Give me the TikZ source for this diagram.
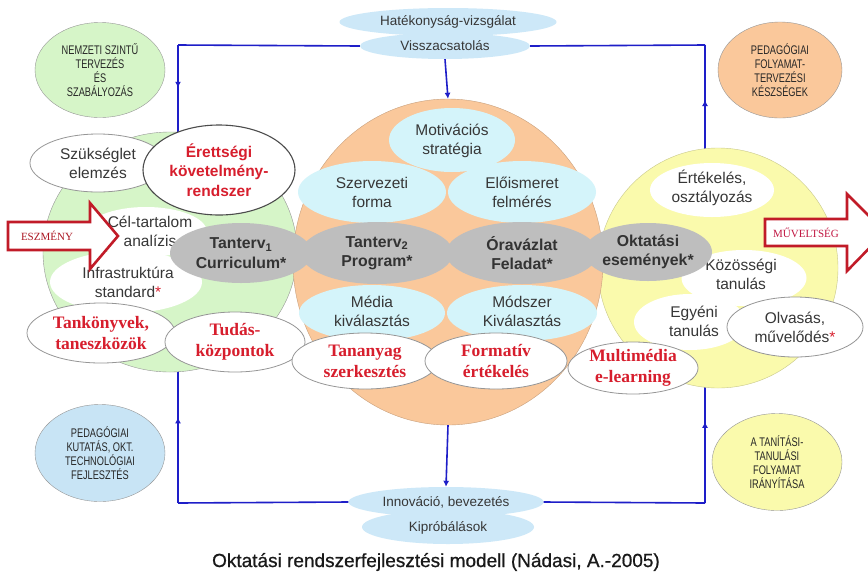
\documentclass[tikz,border=0pt]{standalone}
\usepackage{fontspec}
\setmainfont{Liberation Sans}
\newfontfamily\serifbold{Liberation Serif}
\newfontfamily\narrowsans[FakeStretch=0.74]{Liberation Sans}
\newfontfamily\captionfont[FakeBold=0.7]{Liberation Sans}
\usetikzlibrary{shapes.geometric,arrows.meta,decorations.markings}

\definecolor{greenfill}{RGB}{214,245,200}
\definecolor{orangefill}{RGB}{250,200,155}
\definecolor{yellowfill}{RGB}{250,250,172}
\definecolor{cyanfill}{RGB}{212,244,250}
\definecolor{paleblue}{RGB}{205,232,248}
\definecolor{cornerblue}{RGB}{200,228,245}
\definecolor{chaingray}{RGB}{190,190,190}
\definecolor{loopblue}{RGB}{30,30,200}
\definecolor{redtxt}{RGB}{215,30,45}
\definecolor{darktxt}{RGB}{55,55,55}
\definecolor{edgegray}{RGB}{150,150,150}

\tikzset{
  oval/.style={ellipse, inner sep=0pt, draw=none},
  outlined/.style={oval, draw=edgegray, line width=0.8pt, fill=white},
  txt/.style={align=center, text=darktxt, font=\fontsize{15.5}{19}\selectfont},
  boldtxt/.style={align=center, text=black!80, font=\bfseries\fontsize{15.8}{19.5}\selectfont},
  redsans/.style={align=center, text=redtxt, font=\bfseries\fontsize{15.5}{19.5}\selectfont},
  redserif/.style={align=center, text=redtxt, font=\serifbold\bfseries\fontsize{17.5}{21}\selectfont},
  cornertxt/.style={align=center, text=black!85, font=\narrowsans\fontsize{12.5}{14}\selectfont},
  smalltxt/.style={align=center, text=darktxt, font=\fontsize{13.5}{16}\selectfont},
  loopline/.style={draw=loopblue, line width=1.6pt},
  midarrow/.style={postaction={decorate, decoration={markings,
      mark=at position #1 with {\arrow[loopblue]{Latex[length=6pt,width=6pt]}}}}},
  downarrow/.style={loopline, -{Latex[length=6pt,width=6pt]}},
  bigarrow/.style={draw=redtxt!90!black, line width=2.6pt, fill=white, line join=miter},
}

\begin{document}
\begin{tikzpicture}[x=1pt, y=-1pt]
\useasboundingbox (0,0) rectangle (868,574);
\fill[white] (0,0) rectangle (868,574);

% corner ellipses
\node[oval, draw=edgegray, fill=greenfill, minimum width=130, minimum height=95] (nemzeti) at (100,70) {};
\node[cornertxt] at (nemzeti) {NEMZETI SZINTŰ\\TERVEZÉS\\ÉS\\SZABÁLYOZÁS};
\node[oval, draw=edgegray, fill=orangefill, minimum width=124, minimum height=96] (pedfoly) at (780,70) {};
\node[cornertxt] at (pedfoly) {PEDAGÓGIAI\\FOLYAMAT-\\TERVEZÉSI\\KÉSZSÉGEK};
\node[oval, draw=edgegray, fill=cornerblue, minimum width=130, minimum height=97] (pedkut) at (100,453) {};
\node[cornertxt] at (pedkut) {PEDAGÓGIAI\\KUTATÁS, OKT.\\TECHNOLÓGIAI\\FEJLESZTÉS};
\node[oval, draw=edgegray, fill=yellowfill, minimum width=130, minimum height=97] (tanit) at (777,462) {};
\node[cornertxt] at (tanit) {A TANÍTÁSI-\\TANULÁSI\\FOLYAMAT\\IRÁNYÍTÁSA};

% feedback / innovation ellipses
\node[oval, fill=paleblue, minimum width=217, minimum height=28] (hatek) at (448,22) {};
\node[oval, fill=paleblue, minimum width=170, minimum height=26] (vissza) at (445,46) {};
\node[smalltxt] at (448,22) {Hatékonyság-vizsgálat};
\node[smalltxt] at (445,46) {Visszacsatolás};
\node[oval, fill=paleblue, minimum width=172, minimum height=34] (kipro) at (448,527) {};
\node[oval, fill=paleblue, minimum width=195, minimum height=30] (innov) at (446,502) {};
\node[smalltxt] at (446,502) {Innováció, bevezetés};
\node[smalltxt] at (448,528) {Kipróbálások};

% loop corners
\coordinate (tl) at (178,45);
\coordinate (tr) at (705,45);
\coordinate (bl) at (178,503);
\coordinate (br) at (705,503);
\coordinate (greentop) at (178,140);
\coordinate (greenbot) at (178,365);
\coordinate (yellowtop) at (705,155);
\coordinate (yellowbot) at (705,380);

% blue loop
\draw[loopline] (vissza.west) -- (tl);
\draw[loopline, midarrow=0.45] (tl) -- (greentop);
\draw[loopline, midarrow=0.5] (yellowtop) -- (tr);
\draw[loopline] (tr) -- (vissza.east);
\draw[loopline] (innov.west) -- (bl);
\draw[loopline, midarrow=0.62] (bl) -- (greenbot);
\draw[loopline] (innov.east) -- (br);
\draw[loopline, midarrow=0.66] (br) -- (yellowbot);

% the three big circles
\node[oval, draw=edgegray, fill=greenfill, minimum width=254, minimum height=240] (green) at (170,252) {};
\node[oval, draw=yellowfill!80!black, fill=yellowfill, minimum width=240, minimum height=240] (yellow) at (718,268) {};
\node[oval, draw=orangefill!80!black, fill=orangefill, minimum width=310, minimum height=326] (orange) at (448,262) {};

\draw[downarrow] (vissza.south) -- (orange.north);
\draw[downarrow] (orange.south) -- (innov.north);

% green circle contents
\node[oval, fill=white, minimum width=122, minimum height=50] (celblob) at (146,232) {};
\node[oval, fill=white, minimum width=152, minimum height=62] (infra) at (126,282) {};
\node[txt] at (150,231) {Cél-tartalom\\analízis};
\node[txt] at (128,282) {Infrastruktúra\\standard\textcolor{redtxt}{*}};
\node[outlined, minimum width=136, minimum height=58] (szuk) at (98,163) {};
\node[txt] at (szuk) {Szükséglet\\elemzés};
\node[oval, draw=black!70, line width=1.1pt, fill=white, minimum width=152, minimum height=90] (eretts) at (219,170) {};
\node[redsans] at (eretts) {Érettségi\\követelmény-\\rendszer};

% ESZMÉNY arrow
\draw[bigarrow] (8,222) -- (90,222) -- (90,203) -- (118,236) -- (90,269) -- (90,250) -- (8,250) -- cycle;
\node[text=redtxt!80!black, font=\serifbold\fontsize{11}{12}\selectfont] (eszmeny) at (47,236) {ESZMÉNY};

% orange circle contents
\node[oval, fill=cyanfill, minimum width=126, minimum height=64] (motiv) at (452,140) {};
\node[oval, fill=cyanfill, minimum width=148, minimum height=62] (szerv) at (372,192) {};
\node[oval, fill=cyanfill, minimum width=148, minimum height=62] (elois) at (522,192) {};
\node[txt] at (452,141) {Motivációs\\stratégia};
\node[txt] at (szerv) {Szervezeti\\forma};
\node[txt] at (elois) {Előismeret\\felmérés};
\node[oval, fill=cyanfill, minimum width=146, minimum height=56] (media) at (372,313) {};
\node[oval, fill=cyanfill, minimum width=150, minimum height=56] (modsz) at (522,313) {};
\node[txt] at (372,311) {Média\\kiválasztás};
\node[txt] at (522,311) {Módszer\\Kiválasztás};

% yellow circle contents
\node[oval, fill=white, minimum width=124, minimum height=54] (ertek) at (712,190) {};
\node[txt] at (712,188) {Értékelés,\\osztályozás};
\node[oval, fill=white, minimum width=125, minimum height=56] (kozos) at (744,278) {};
\node[oval, fill=white, minimum width=112, minimum height=56] (egyeni) at (690,322) {};
\node[txt] at (741,274) {Közösségi\\tanulás};
\node[txt] at (694,321) {Egyéni\\tanulás};
\node[outlined, minimum width=136, minimum height=60] (olvas) at (795,327) {};
\node[txt] at (olvas) {Olvasás,\\művelődés\textcolor{redtxt}{*}};

% gray chain across the circles
\node[oval, fill=chaingray, minimum width=142, minimum height=60] (tanterva) at (241,253) {};
\node[oval, fill=chaingray, minimum width=128, minimum height=58] (oktesem) at (648,252) {};
\node[oval, fill=chaingray, minimum width=152, minimum height=62] (tantervb) at (377,253) {};
\node[oval, fill=chaingray, minimum width=152, minimum height=62] (oravaz) at (522,253) {};
\node[boldtxt] at (tanterva) {Tanterv\textsubscript{1}\\Curriculum*};
\node[boldtxt] at (tantervb) {Tanterv\textsubscript{2}\\Program*};
\node[boldtxt] at (oravaz) {Óravázlat\\Feladat*};
\node[boldtxt] at (oktesem) {Oktatási\\események*};

% MŰVELTSÉG arrow
\draw[bigarrow] (765,219) -- (847,219) -- (847,194) -- (885,232) -- (847,271) -- (847,246) -- (765,246) -- cycle;
\node[text=redtxt!75!violet, font=\serifbold\fontsize{11}{12}\selectfont] (muvelt) at (806,233) {MŰVELTSÉG};

% lower row of white ellipses
\node[outlined, minimum width=148, minimum height=60] (tank) at (101,333) {};
\node[redserif] at (tank) {Tankönyvek,\\taneszközök};
\node[outlined, minimum width=140, minimum height=60] (tudas) at (235,342) {};
\node[redserif] at (tudas) {Tudás-\\központok};
\node[outlined, minimum width=146, minimum height=56] (tanany) at (365,361) {};
\node[redserif] at (tanany) {Tananyag\\szerkesztés};
\node[outlined, minimum width=130, minimum height=52] (multi) at (633,368) {};
\node[redserif] at (multi) {Multimédia\\e-learning};
\node[outlined, minimum width=142, minimum height=56] (format) at (496,361) {};
\node[redserif] at (format) {Formatív\\értékelés};

% caption
\node[text=black!90, font=\captionfont\fontsize{19}{22}\selectfont] (caption) at (436,562) {Oktatási rendszerfejlesztési modell (Nádasi, A.-2005)};
\end{tikzpicture}
\end{document}
